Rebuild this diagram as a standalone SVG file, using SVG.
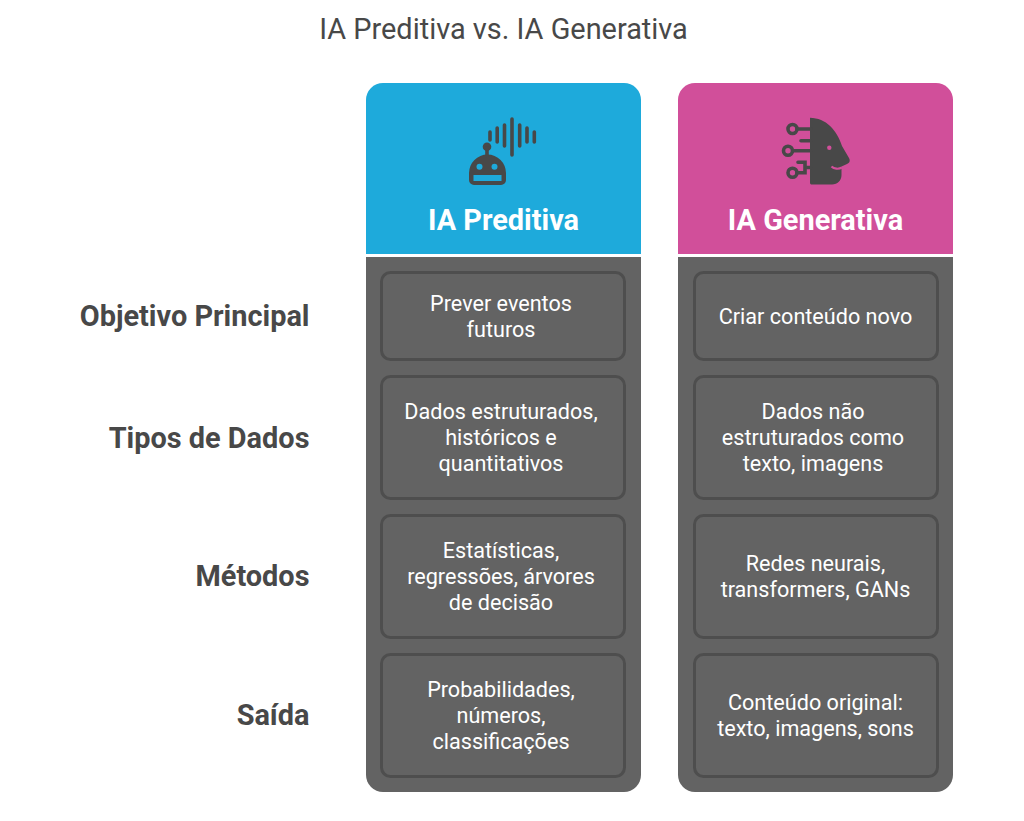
<svg xmlns="http://www.w3.org/2000/svg" width="1024" height="821" viewBox="0 0 1024 821">
<style>
text{font-family:Roboto,"Liberation Sans",sans-serif}
.t{font-size:28.900px;fill:#484848;text-anchor:middle}
.r{font-size:28.900px;font-weight:700;fill:#484848;text-anchor:end}
.h{font-size:28.900px;font-weight:700;fill:#fff;text-anchor:middle}
.c{font-size:21.600px;fill:#fff;text-anchor:middle}
.b{fill:#636363;stroke:#4e4e4e;stroke-width:3}
.p{fill:#636363}
.i{fill:#484848}
.l{stroke:#484848;fill:none;stroke-width:3.600;stroke-linecap:round}
</style>
<rect width="1024" height="821" fill="#fff"/>
<text class="t" x="503.500" y="39">IA Preditiva vs. IA Generativa</text>
<g id="row-labels">
<text class="r" x="309.500" y="326">Objetivo Principal</text>
<text class="r" x="309.500" y="448">Tipos de Dados</text>
<text class="r" x="309.500" y="586">Métodos</text>
<text class="r" x="309.500" y="725">Saída</text>
</g>
<g id="col-preditiva">
<path d="M366 254V100a17 17 0 0 1 17-17H624a17 17 0 0 1 17 17V254Z" fill="#1eaadb"/>
<path class="p" d="M366 257H641V775a17 17 0 0 1-17 17H383a17 17 0 0 1-17-17Z"/>
<g id="icon-robot">
<path class="i" d="M469 180V173a18.500 18.500 0 0 1 37 0V180a5 5 0 0 1-5 5H474A5 5 0 0 1 469 180Z"/>
<rect x="473.500" y="175" width="28" height="6" fill="#1eaadb"/>
<circle cx="479.500" cy="166.700" r="3" fill="#1eaadb"/>
<circle cx="494.500" cy="166.700" r="3" fill="#1eaadb"/>
<circle cx="487" cy="146.700" r="4.300" class="i"/>
<path class="l" d="M487 148V156M490 132V140M497.200 128V142M504.500 125V146M512 119V155M519.700 125V146M527 128V142M534.300 132V142"/>
</g>
<text class="h" x="503.500" y="230">IA Preditiva</text>
</g>
<g id="col-generativa">
<path d="M678 254V100a17 17 0 0 1 17-17H936a17 17 0 0 1 17 17V254Z" fill="#d14f9a"/>
<path class="p" d="M678 257H953V775a17 17 0 0 1-17 17H695a17 17 0 0 1-17-17Z"/>
<g id="icon-head">
<path class="i" d="M810 117.700C826 118 837 130 842 146L849 158C850.500 161 849.500 163 847 164L841.500 166.500V175C841.500 180.500 837.500 184.500 832 184.500H812C810.500 184.500 810 184 810 182.500Z"/>
<path d="M831.500 166.500C834 169 838.500 169.500 842 167.500" stroke="#d14f9a" stroke-width="2.200" fill="none"/>
<circle cx="829.300" cy="147.700" r="2.200" fill="#d14f9a"/>
<g class="l"><circle cx="792.500" cy="129" r="4.500"/><circle cx="788" cy="150.700" r="4.500"/><circle cx="792.500" cy="172.700" r="4.500"/>
<path d="M797 129H811M801 140.700H811M793 150.700H811M797 172.700H805V162.300H798M805 167.500H811"/></g>
</g>
<text class="h" x="815.500" y="230">IA Generativa</text>
</g>
<g id="cell-p1"><rect class="b" x="381.500" y="272.500" width="243" height="87" rx="9"/><text class="c" x="501" y="310.500">Prever eventos</text><text class="c" x="501" y="336.500">futuros</text></g>
<g id="cell-p2"><rect class="b" x="381.500" y="376.500" width="243" height="122" rx="9"/><text class="c" x="501" y="418.500">Dados estruturados,</text><text class="c" x="501" y="444.500">históricos e</text><text class="c" x="501" y="470.500">quantitativos</text></g>
<g id="cell-p3"><rect class="b" x="381.500" y="515.500" width="243" height="122" rx="9"/><text class="c" x="501" y="557.500">Estatísticas,</text><text class="c" x="501" y="583.500">regressões, árvores</text><text class="c" x="501" y="609.500">de decisão</text></g>
<g id="cell-p4"><rect class="b" x="381.500" y="654.500" width="243" height="122" rx="9"/><text class="c" x="501" y="696.500">Probabilidades,</text><text class="c" x="501" y="722.500">números,</text><text class="c" x="501" y="748.500">classificações</text></g>
<g id="cell-g1"><rect class="b" x="694.500" y="272.500" width="243" height="87" rx="9"/><text class="c" x="815.500" y="323.500">Criar conteúdo novo</text></g>
<g id="cell-g2"><rect class="b" x="694.500" y="376.500" width="243" height="122" rx="9"/><text class="c" x="813" y="418.500">Dados não</text><text class="c" x="813" y="444.500">estruturados como</text><text class="c" x="813" y="470.500">texto, imagens</text></g>
<g id="cell-g3"><rect class="b" x="694.500" y="515.500" width="243" height="122" rx="9"/><text class="c" x="815.500" y="570.500">Redes neurais,</text><text class="c" x="815.500" y="596.500">transformers, GANs</text></g>
<g id="cell-g4"><rect class="b" x="694.500" y="654.500" width="243" height="122" rx="9"/><text class="c" x="815.500" y="709.500">Conteúdo original:</text><text class="c" x="815.500" y="735.500">texto, imagens, sons</text></g>
</svg>
